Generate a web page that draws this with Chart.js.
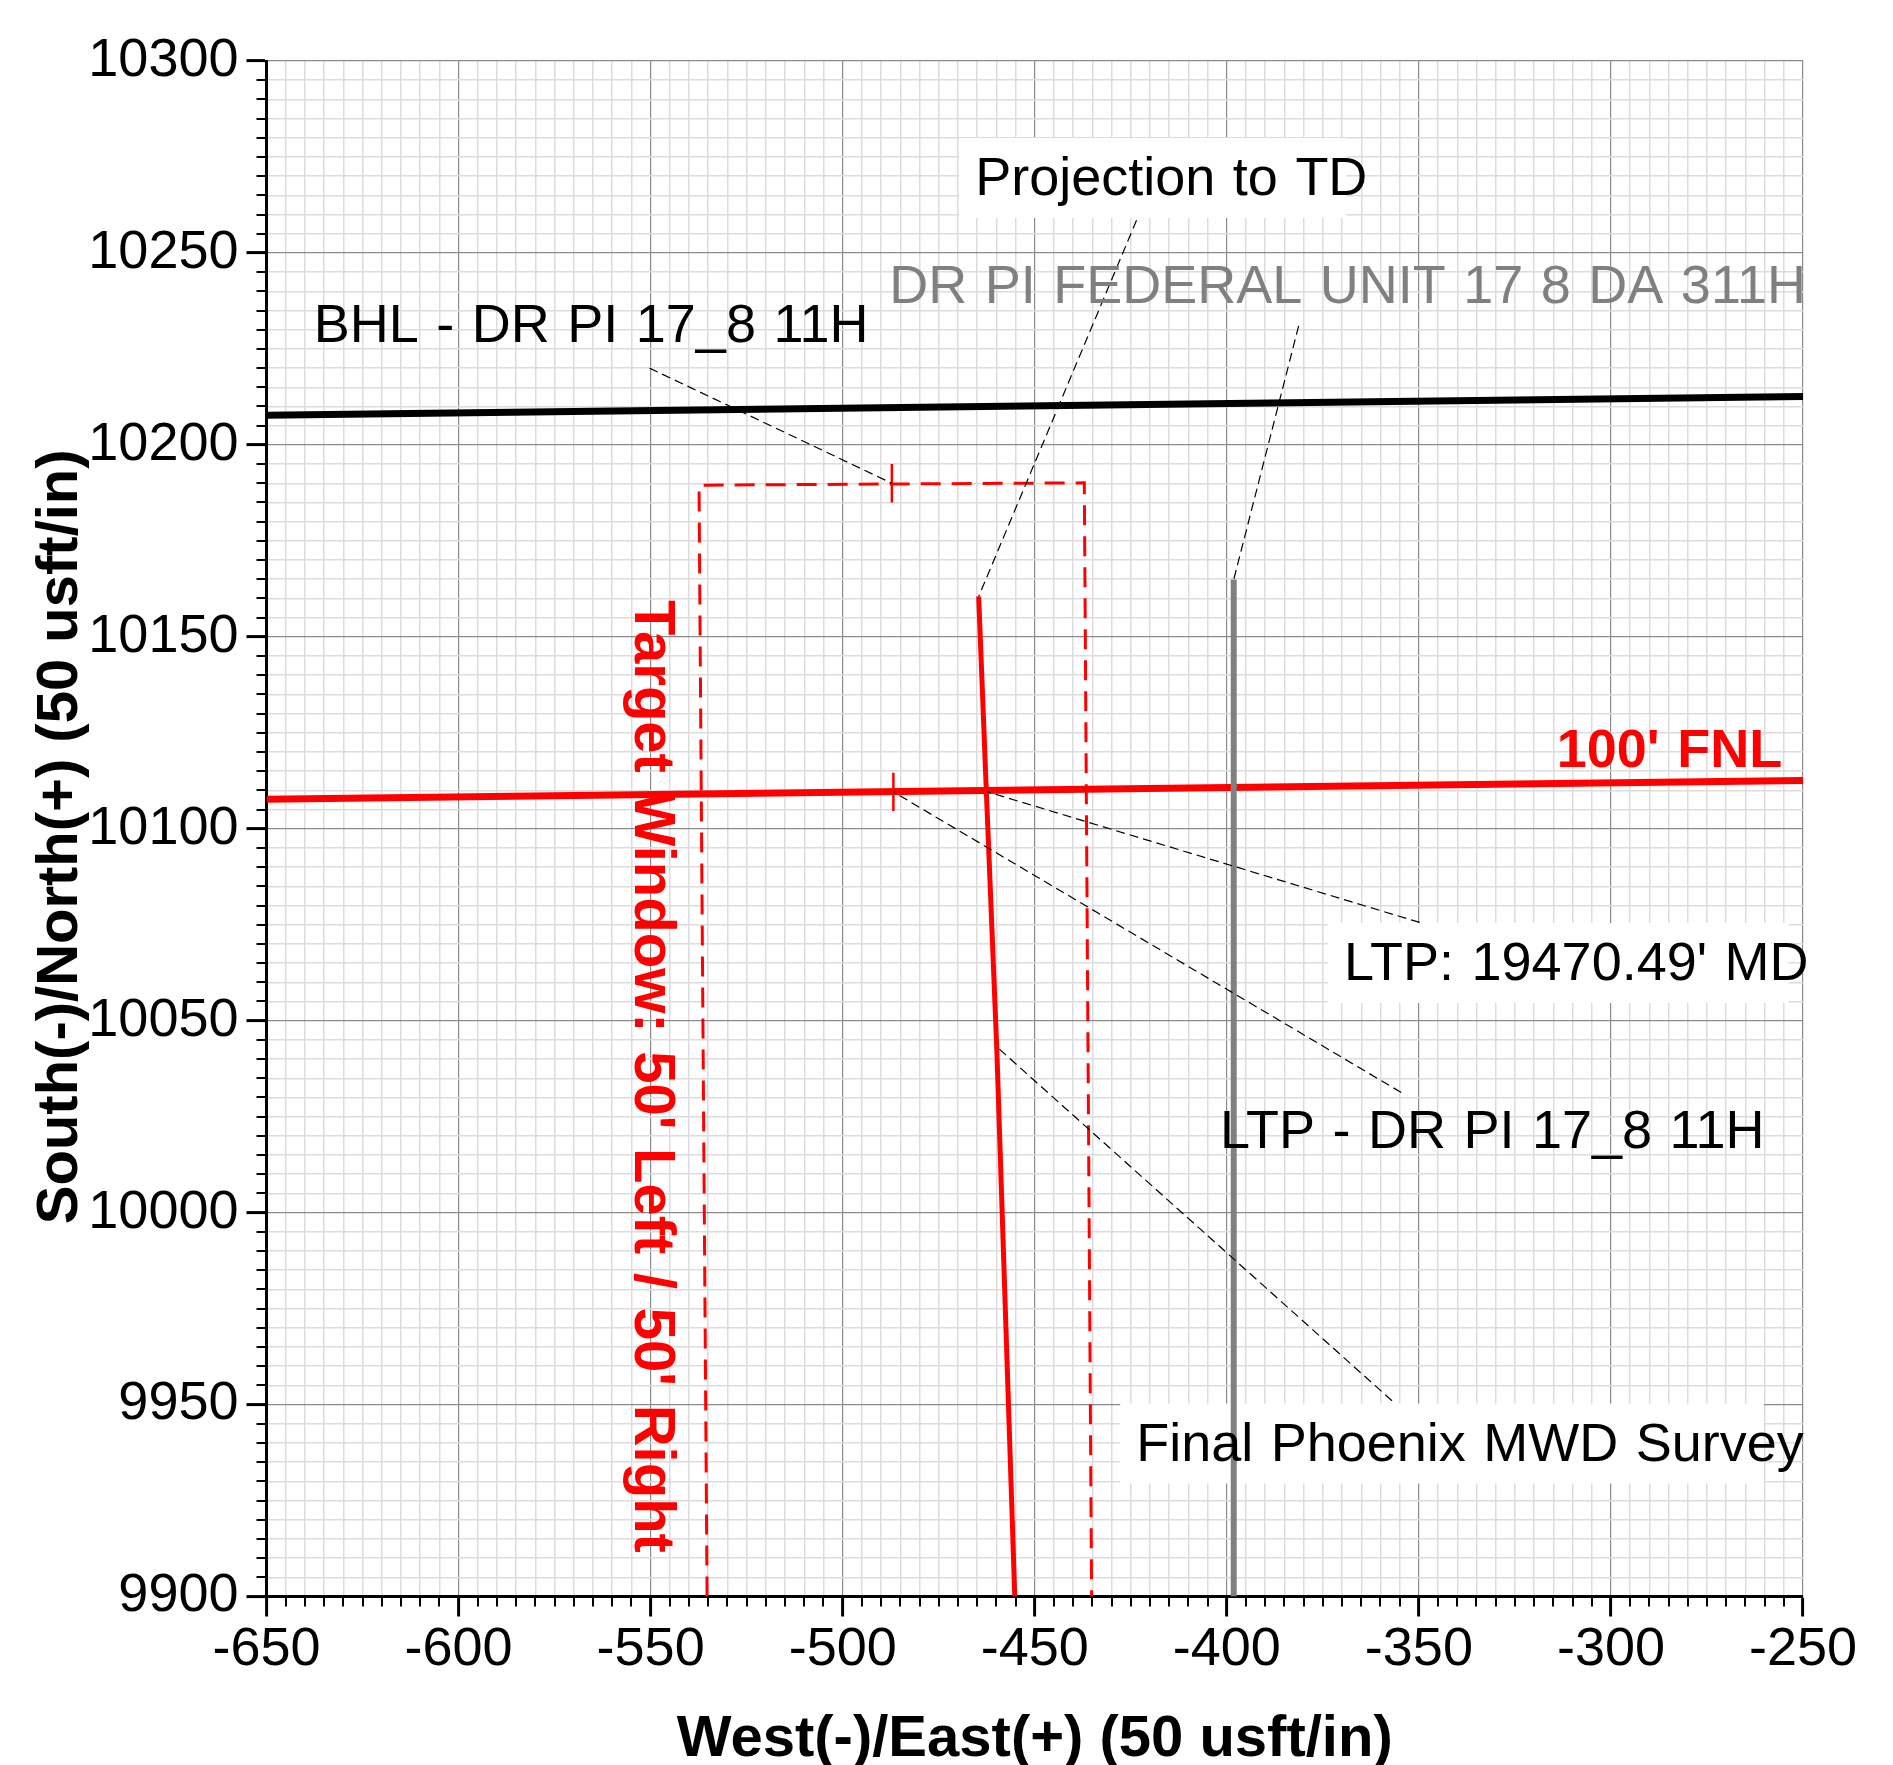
<!DOCTYPE html>
<html>
<head>
<meta charset="utf-8">
<script src="https://cdn.jsdelivr.net/npm/chart.js@4.4.1/dist/chart.umd.min.js"></script>
<style>
html,body{margin:0;padding:0;background:#fff;overflow:hidden}
#wrap{position:relative;width:1893px;height:1765px}
</style>
</head>
<body>
<div id="wrap"><canvas id="c"></canvas></div>
<script>
// ---- axes ----
const xRange = [-650, -250];
const yRange = [9900, 10300];
const majorStep = 50;
const minorStep = 5;

// ---- plotted lines (West/East, South/North) ----
const sectionLineX = [-650, -250];
const sectionLineY = [10207.7, 10212.6];
const fnlLineX = [-650, -250];
const fnlLineY = [10107.7, 10112.6];
const targetWindowX = [-535.3, -537.4, -437.1, -435.2];
const targetWindowY = [9900, 10189.5, 10190.1, 9900];
const wellboreX = [-464.6, -462.6, -459.9, -455.2];
const wellboreY = [10160.5, 10109.7, 10043.2, 9900];
const offsetWellX = [-398.2, -398.2];
const offsetWellY = [10164.9, 9900];
const windowTickX = [-487.2, -486.8];
const windowTickY = [10190.0, 10109.6];
const windowTickHalf = 5;

// ---- leader lines (label end -> marked point) ----
const leaderFromX = [-550.3, -423.5, -381.3, -349.8, -354.6, -357.0];
const leaderFromY = [10220.0, 10258.5, 10231.0, 10075.6, 10031.3, 9951.0];
const leaderToX = [-487.2, -464.6, -398.2, -462.6, -486.8, -459.9];
const leaderToY = [10190.0, 10160.5, 10164.9, 10109.7, 10109.6, 10043.2];

// ---- labels ----
const labelTexts = ["Projection to TD", "DR PI FEDERAL UNIT 17 8 DA 311H", "BHL - DR PI 17_8 11H",
  "100' FNL", "Target Window: 50' Left / 50' Right", "LTP: 19470.49' MD", "LTP - DR PI 17_8 11H",
  "Final Phoenix MWD Survey"];
const labelX = [-465.5, -487.9, -637.7, -314.1, -554.1, -369.5, -401.8, -423.6];
const labelY = [10265.1, 10237.0, 10226.7, 10116.2, 10159.6, 10060.6, 10016.9, 9935.4];
const labelColors = ['#000000', '#808080', '#000000', '#ff0000', '#ff0000', '#000000', '#000000', '#000000'];
const labelBold = [false, false, false, true, true, false, false, false];
const labelRotated = [false, false, false, false, true, false, false, false];
const labelBoxTrim = [21, null, null, null, null, 20, null, 40];

const FONT = "'Liberation Sans', Arial, Helvetica, sans-serif";
Chart.defaults.font.family = FONT;

function pts(xs, ys) { return xs.map((x, i) => ({x: x, y: ys[i]})); }
function lineDs(data, color, width, dash, order) {
  return {data: data, showLine: true, borderColor: color, backgroundColor: color, borderWidth: width,
    borderDash: dash || [], pointRadius: 0, pointHoverRadius: 0, fill: false, tension: 0, order: order,
    borderCapStyle: 'butt'};
}

const datasets = [];
datasets.push(lineDs(pts(sectionLineX, sectionLineY), '#000000', 7, null, 7));
datasets.push(lineDs(pts(fnlLineX, fnlLineY), '#ff0000', 7, null, 6));
datasets.push(lineDs(pts(targetWindowX, targetWindowY), '#ff0000', 3, [20, 11], 5));
windowTickX.forEach((x, i) => {
  datasets.push(lineDs(pts([x, x], [windowTickY[i] - windowTickHalf, windowTickY[i] + windowTickHalf]), '#ff0000', 2.5, null, 5));
});
datasets.push(lineDs(pts(wellboreX, wellboreY), '#ff0000', 5, null, 3));
datasets.push(lineDs(pts(offsetWellX, offsetWellY), '#808080', 6, null, 2));
leaderFromX.forEach((x, i) => {
  datasets.push(lineDs(pts([x, leaderToX[i]], [leaderFromY[i], leaderToY[i]]), '#000000', 1.2, [9, 5], 1));
});

const isMajor = v => Math.abs(v % majorStep) < 1e-9;
const gridColor = ctx => (ctx.tick && isMajor(ctx.tick.value)) ? '#8a8a8a' : '#dcdcdc';
const gridWidth = ctx => (ctx.tick && isMajor(ctx.tick.value)) ? 1.2 : 1.5;
const tickColor = ctx => (ctx.tick && isMajor(ctx.tick.value)) ? '#000000' : 'rgba(0,0,0,0)';
const tickLabel = v => isMajor(v) ? String(v) : '';

function setFont(ctx, i) {
  ctx.font = (labelBold[i] ? 'bold ' : '') + (labelRotated[i] ? '58px ' : '54px ') + FONT;
  try { ctx.wordSpacing = '2.5px'; } catch (e) {}
}

const annot = {
  id: 'annot',
  beforeDatasetsDraw(chart) {
    const ctx = chart.ctx, xs = chart.scales.x, ys = chart.scales.y;
    ctx.save();
    labelTexts.forEach((t, i) => {
      if (labelBoxTrim[i] === null) return;
      setFont(ctx, i);
      const w = ctx.measureText(t).width;
      const px = xs.getPixelForValue(labelX[i]), py = ys.getPixelForValue(labelY[i]);
      ctx.fillStyle = '#ffffff';
      ctx.fillRect(px - 16, py - 57, w + 16 - labelBoxTrim[i], 80);
    });
    ctx.restore();
  },
  afterDatasetsDraw(chart) {
    const ctx = chart.ctx, xs = chart.scales.x, ys = chart.scales.y;
    ctx.save();
    labelTexts.forEach((t, i) => {
      const px = xs.getPixelForValue(labelX[i]), py = ys.getPixelForValue(labelY[i]);
      setFont(ctx, i);
      ctx.fillStyle = labelColors[i];
      ctx.textAlign = 'left';
      ctx.textBaseline = 'alphabetic';
      if (labelRotated[i]) {
        ctx.save();
        ctx.translate(px, py);
        ctx.rotate(Math.PI / 2);
        ctx.fillText(t, 0, 0);
        ctx.restore();
      } else {
        ctx.fillText(t, px, py);
      }
    });
    ctx.restore();
  },
  afterDraw(chart) {
    const ctx = chart.ctx, xs = chart.scales.x, ys = chart.scales.y, a = chart.chartArea;
    ctx.save();
    ctx.strokeStyle = '#000000';
    ctx.lineWidth = 2;
    ctx.beginPath();
    xs.ticks.forEach(t => {
      if (isMajor(t.value)) return;
      const p = Math.round(xs.getPixelForValue(t.value));
      ctx.moveTo(p, a.bottom);
      ctx.lineTo(p, a.bottom + 10);
    });
    ys.ticks.forEach(t => {
      if (isMajor(t.value)) return;
      const p = Math.round(ys.getPixelForValue(t.value));
      ctx.moveTo(a.left, p);
      ctx.lineTo(a.left - 10, p);
    });
    ctx.stroke();
    ctx.restore();
  }
};

new Chart(document.getElementById('c'), {
  type: 'scatter',
  data: {datasets: datasets},
  plugins: [annot],
  options: {
    responsive: true,
    maintainAspectRatio: false,
    animation: false,
    devicePixelRatio: 1,
    events: [],
    layout: {padding: {left: 0, top: 61, right: 90, bottom: 0}},
    plugins: {legend: {display: false}, tooltip: {enabled: false}},
    scales: {
      x: {
        type: 'linear', position: 'bottom', min: xRange[0], max: xRange[1],
        afterFit: s => { s.height = 168.5; },
        ticks: {stepSize: minorStep, autoSkip: false, maxRotation: 0, minRotation: 0, padding: 1,
          color: '#000000', font: {size: 54}, callback: tickLabel},
        grid: {color: gridColor, lineWidth: gridWidth, drawTicks: true, tickLength: 20, tickColor: tickColor, tickWidth: 3},
        border: {display: true, color: '#000000', width: 3},
        title: {display: true, text: 'West(-)/East(+) (50 usft/in)', color: '#000000',
          font: {size: 58, weight: 'bold', lineHeight: 0.8}, padding: {top: 0, bottom: 2}}
      },
      y: {
        type: 'linear', position: 'left', min: yRange[0], max: yRange[1],
        afterFit: s => { s.width = 266.5; },
        ticks: {stepSize: minorStep, autoSkip: false, padding: 8,
          color: '#000000', font: {size: 54}, callback: tickLabel},
        grid: {color: gridColor, lineWidth: gridWidth, drawTicks: true, tickLength: 20, tickColor: tickColor, tickWidth: 3},
        border: {display: true, color: '#000000', width: 3},
        title: {display: true, text: 'South(-)/North(+) (50 usft/in) ', color: '#000000',
          font: {size: 58, weight: 'bold', lineHeight: 0.8}, padding: {top: 38, bottom: 0}}
      }
    }
  }
});
</script>
</body>
</html>
